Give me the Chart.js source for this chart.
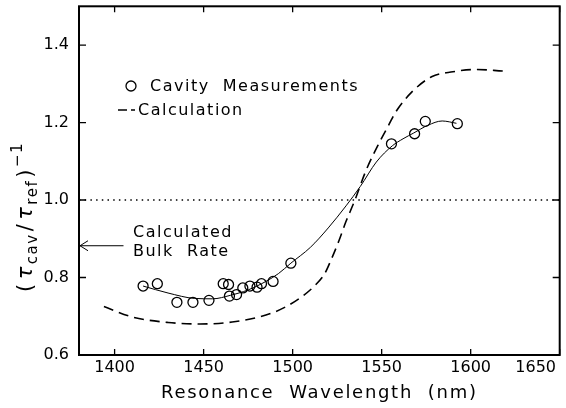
<!DOCTYPE html>
<html>
<head>
<meta charset="utf-8">
<script src="https://cdn.jsdelivr.net/npm/chart.js@4.4.0/dist/chart.umd.min.js"></script>
<style>
  body { margin: 0; background: #fff; }
  canvas { display: block; }
</style>
</head>
<body>
<canvas id="myChart" width="566" height="408"></canvas>
<script>
// measured points (circles)
const measX = [1416, 1424, 1435, 1444, 1453, 1461, 1464, 1464.5, 1468.5, 1472, 1476, 1480, 1482.5, 1489, 1499, 1555.5, 1568.5, 1574.5, 1592.5];
const measY = [0.778, 0.784, 0.736, 0.736, 0.741, 0.784, 0.782, 0.752, 0.756, 0.773, 0.778, 0.775, 0.784, 0.790, 0.837, 1.145, 1.171, 1.203, 1.197];

// thin solid line through the measurements
const fitX = [1416, 1430, 1445, 1455, 1465, 1475, 1485, 1492, 1499, 1510, 1520, 1530, 1538, 1547, 1556, 1562, 1568, 1576, 1584, 1592];
const fitY = [0.778, 0.760, 0.746, 0.745, 0.754, 0.768, 0.790, 0.810, 0.837, 0.878, 0.928, 0.985, 1.035, 1.098, 1.140, 1.158, 1.173, 1.193, 1.204, 1.198];

// dashed calculation
const calcX = [1394, 1410, 1430, 1448, 1466, 1485, 1496, 1505, 1512, 1518, 1522, 1526, 1530, 1535, 1541, 1549, 1554, 1558, 1567, 1578, 1590, 1603, 1618];
const calcY = [0.725, 0.698, 0.684, 0.680, 0.685, 0.703, 0.724, 0.750, 0.777, 0.810, 0.850, 0.895, 0.945, 1.000, 1.074, 1.151, 1.194, 1.228, 1.279, 1.318, 1.331, 1.337, 1.333];

// reference lines
const unityX = [1380, 1650];
const unityY = [1.0, 1.0];
const bulkX = [1380, 1405];
const bulkY = [0.882, 0.882];

const xTicks = [1400, 1450, 1500, 1550, 1600, 1650];
const yTicks = [0.6, 0.8, 1.0, 1.2, 1.4];

function pts(xs, ys) {
    var out = [];
    for (var i = 0; i < xs.length; i++) out.push({ x: xs[i], y: ys[i] });
    return out;
}

const FONT = '"DejaVu Sans", sans-serif';

const extras = {
    id: 'extras',
    afterDraw: function (chart) {
        var ctx = chart.ctx;
        var a = chart.chartArea;
        var xs = chart.scales.x, ys = chart.scales.y;
        ctx.save();
        ctx.strokeStyle = '#000';
        ctx.fillStyle = '#000';

        // frame
        ctx.lineWidth = 2;
        ctx.strokeRect(a.left, a.top, a.right - a.left, a.bottom - a.top);

        // inward ticks on all sides
        ctx.lineWidth = 1.3;
        ctx.beginPath();
        xTicks.forEach(function (v) {
            var px = xs.getPixelForValue(v);
            ctx.moveTo(px, a.bottom); ctx.lineTo(px, a.bottom - 6);
            ctx.moveTo(px, a.top); ctx.lineTo(px, a.top + 6);
        });
        yTicks.forEach(function (v) {
            var py = ys.getPixelForValue(v);
            ctx.moveTo(a.left, py); ctx.lineTo(a.left + 7, py);
            ctx.moveTo(a.right, py); ctx.lineTo(a.right - 7, py);
        });
        ctx.stroke();

        // x tick labels (last one kept inside the canvas)
        ctx.font = '16px ' + FONT;
        ctx.textAlign = 'center';
        ctx.textBaseline = 'middle';
        xTicks.forEach(function (v) {
            var px = xs.getPixelForValue(v);
            var label = String(v);
            var w = ctx.measureText(label).width;
            if (px + w / 2 > chart.width - 10) px = chart.width - 10 - w / 2;
            ctx.fillText(label, px, a.bottom + 13);
        });

        // x axis title
        ctx.letterSpacing = '1.7px';
        ctx.font = '18px ' + FONT;
        ctx.fillText('Resonance  Wavelength  (nm)', (a.left + a.right) / 2, 393);

        // legend
        ctx.letterSpacing = '1.5px';
        ctx.font = '16px ' + FONT;
        ctx.textAlign = 'left';
        ctx.lineWidth = 1.3;
        ctx.beginPath();
        ctx.arc(131, 86, 5, 0, Math.PI * 2);
        ctx.stroke();
        ctx.fillText('Cavity  Measurements', 150, 87);
        ctx.lineWidth = 1.5;
        ctx.beginPath();
        ctx.moveTo(118, 110); ctx.lineTo(127, 110);
        ctx.moveTo(131, 110); ctx.lineTo(135, 110);
        ctx.stroke();
        ctx.fillText('Calculation', 138, 111);

        // bulk rate note + arrow head
        ctx.fillText('Calculated', 133, 233);
        ctx.fillText('Bulk  Rate', 133, 252);
        var ay = ys.getPixelForValue(bulkY[0]);
        ctx.lineWidth = 1;
        ctx.beginPath();
        ctx.moveTo(a.left + 9, ay - 5); ctx.lineTo(a.left + 1, ay); ctx.lineTo(a.left + 9, ay + 5);
        ctx.stroke();

        // y axis title: (tau_cav / tau_ref)^-1
        ctx.translate(32, 292);
        ctx.rotate(-Math.PI / 2);
        ctx.textBaseline = 'alphabetic';
        var x = 0;
        function part(txt, size, dy, italic, gap) {
            ctx.font = (italic ? 'italic ' : '') + size + 'px ' + FONT;
            ctx.fillText(txt, x, dy);
            x += ctx.measureText(txt).width + gap;
        }
        ctx.letterSpacing = '1.5px';
        part('(', 21, 0, false, 3);
        part('\u03c4', 21, 0, true, 1);
        part('cav', 15, 5, false, 2);
        part('/', 21, 0, false, 3);
        part('\u03c4', 21, 0, true, 1);
        part('ref', 15, 5, false, 2);
        part(')', 21, 0, false, 1);
        part('\u22121', 15, -10, false, 0);
        ctx.restore();
    }
};

const config = {
    type: 'scatter',
    data: {
        datasets: [{
            label: 'Cavity Measurements',
            data: pts(measX, measY),
            showLine: false,
            pointStyle: 'circle',
            pointRadius: 5,
            pointBorderWidth: 1.3,
            pointBorderColor: '#000',
            pointBackgroundColor: 'rgba(0,0,0,0)'
        }, {
            label: 'fit',
            data: pts(fitX, fitY),
            showLine: true,
            borderColor: '#000',
            borderWidth: 1,
            pointRadius: 0,
            cubicInterpolationMode: 'monotone'
        }, {
            label: 'Calculation',
            data: pts(calcX, calcY),
            showLine: true,
            borderColor: '#000',
            borderWidth: 1.6,
            borderDash: [10, 6],
            pointRadius: 0,
            cubicInterpolationMode: 'monotone'
        }, {
            label: 'unity',
            data: pts(unityX, unityY),
            showLine: true,
            borderColor: '#000',
            borderWidth: 1.3,
            borderDash: [1.5, 4.2],
            pointRadius: 0
        }, {
            label: 'bulk',
            data: pts(bulkX, bulkY),
            showLine: true,
            borderColor: '#000',
            borderWidth: 1,
            pointRadius: 0
        }]
    },
    options: {
        responsive: false,
        animation: false,
        devicePixelRatio: 1,
        layout: { padding: { left: 0, right: 5, top: 4, bottom: 0 } },
        plugins: {
            legend: { display: false },
            tooltip: { enabled: false }
        },
        scales: {
            x: {
                type: 'linear',
                min: 1380,
                max: 1650,
                grid: { display: false, drawTicks: false },
                border: { display: false },
                ticks: { display: false, stepSize: 50, includeBounds: false },
                afterFit: function (scale) { scale.height = 53; scale.paddingLeft = 0; scale.paddingRight = 0; }
            },
            y: {
                type: 'linear',
                min: 0.6,
                max: 1.5,
                grid: { display: false, drawTicks: false },
                border: { display: false },
                ticks: {
                    stepSize: 0.2,
                    includeBounds: false,
                    padding: 10,
                    color: '#000',
                    font: { family: FONT, size: 16 },
                    callback: function (v) { return v.toFixed(1); }
                },
                afterFit: function (scale) { scale.width = 79; scale.paddingTop = 0; scale.paddingBottom = 0; }
            }
        }
    },
    plugins: [extras]
};

const myChart = new Chart(document.getElementById('myChart'), config);
</script>
</body>
</html>
